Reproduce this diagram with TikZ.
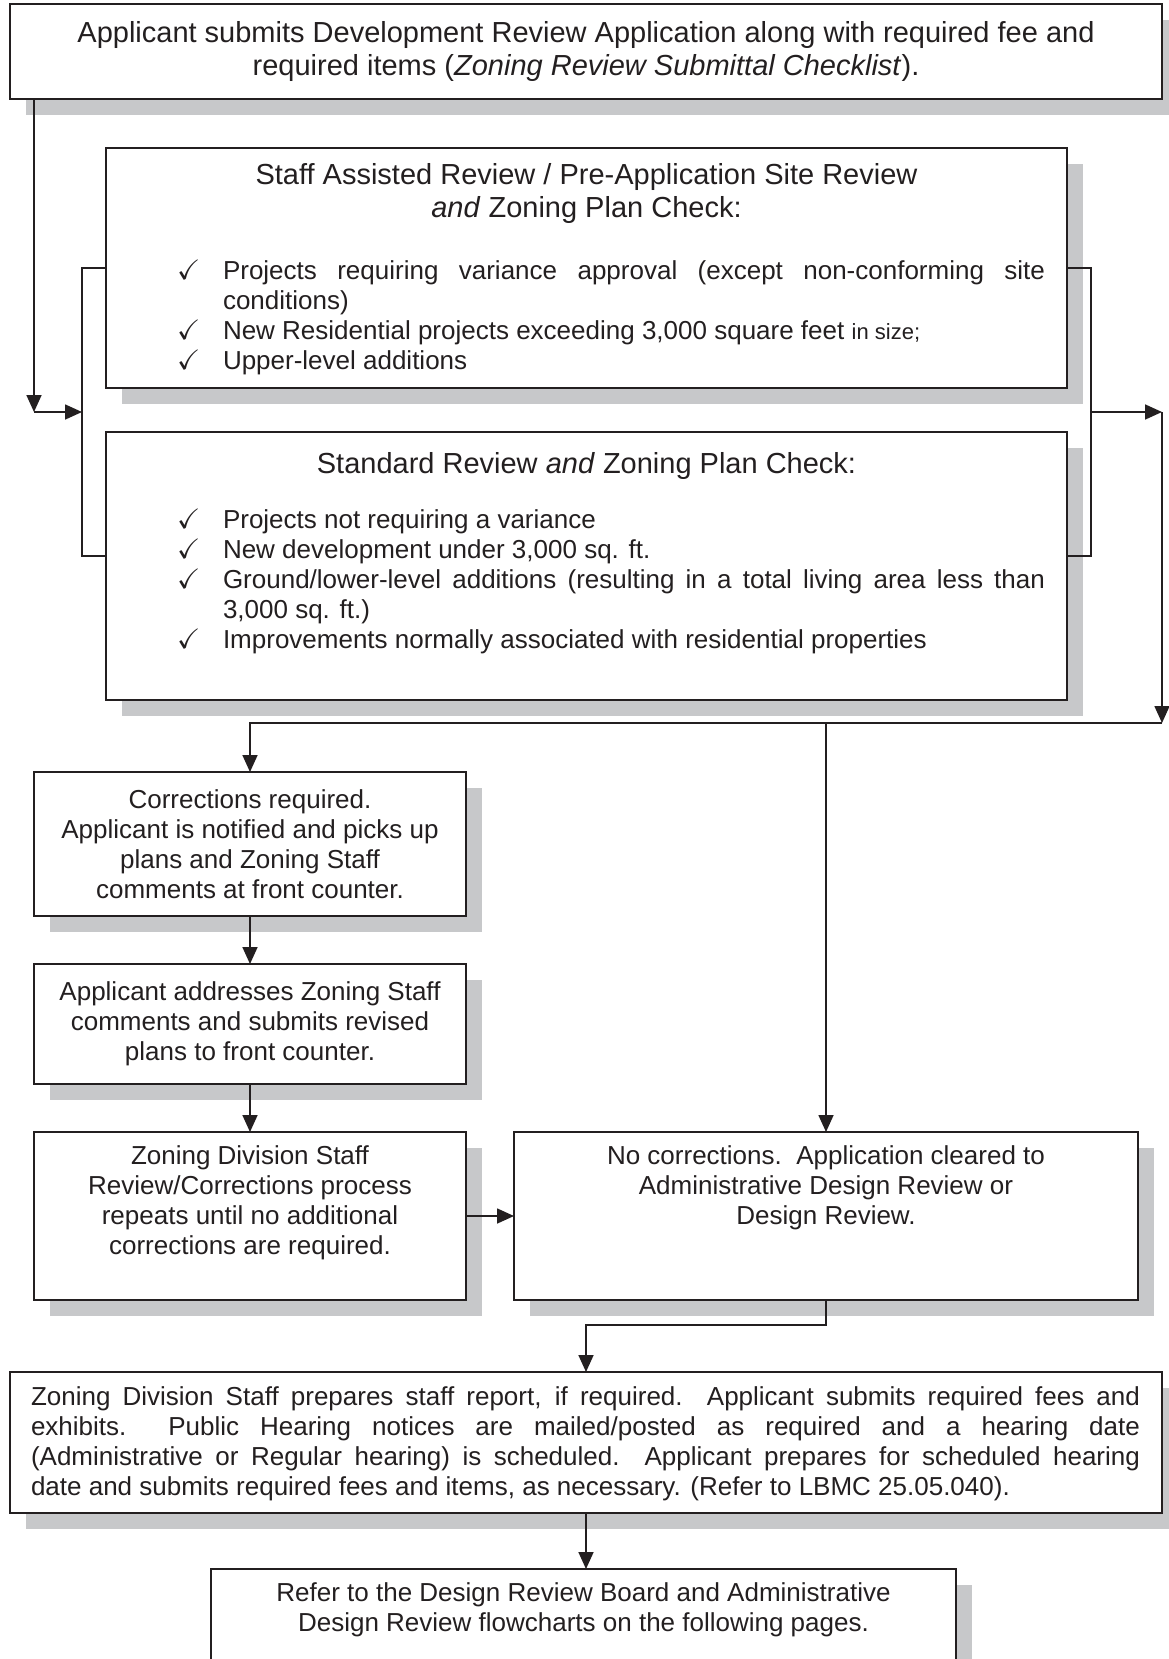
\documentclass[tikz,border=0pt]{standalone}
\usepackage{amssymb}
\usepackage{fontspec}
\setmainfont{Liberation Sans}
\usetikzlibrary{arrows.meta,shadows}
\definecolor{ink}{RGB}{35,31,32}
\definecolor{shadowgrey}{RGB}{199,200,202}
\newcommand{\bigsize}{\fontsize{29}{33}\selectfont}
\newcommand{\chk}[1]{\par{\leftskip=117pt\rightskip=22pt\parfillskip=0pt plus 1fil\tolerance=10000\hyphenpenalty=10000\exhyphenpenalty=10000\noindent\llap{\makebox[46pt][l]{\fontsize{28}{30}\selectfont$\checkmark$}}#1\par}}

\begin{document}
\begin{tikzpicture}[x=1pt,y=-1pt,
	chartbox/.style={draw=ink, line width=2pt, fill=white, inner sep=0pt, outer sep=0pt, anchor=north west, text=ink,
		font=\fontsize{26}{30}\selectfont,
		drop shadow={shadow xshift=16pt, shadow yshift=-16pt, fill=shadowgrey, opacity=1}},
	joinline/.style={draw=ink, line width=1.7pt},
	joinarrow/.style={joinline, -{Triangle[length=17pt,width=15pt]}}]
	\useasboundingbox (0,0) rectangle (1169,1659);
	% boxes
	\node[chartbox] (submit) at (10,4) {\parbox[c][95pt][c]{1152pt}{\centering\bigsize Applicant submits Development Review Application along with required fee and\\required items (\textit{Zoning Review Submittal Checklist}).}};
	\node[chartbox] (staffrev) at (106,148) {\parbox[c][240pt][t]{961pt}{\vspace*{15pt}{\centering\bigsize Staff Assisted Review / Pre-Application Site Review\\\textit{and} Zoning Plan Check:\par}\vspace{32.5pt}%
		\chk{Projects requiring variance approval (except non-conforming site conditions)}%
		\chk{New Residential projects exceeding 3,000 square feet {\fontsize{22}{30}\selectfont in size;}}%
		\chk{Upper-level additions}}};
	\node[chartbox] (stdrev) at (106,432) {\parbox[c][268pt][t]{961pt}{\vspace*{20pt}{\centering\bigsize Standard Review \textit{and} Zoning Plan Check:\par}\vspace{25.5pt}%
		\chk{Projects not requiring a variance}%
		\chk{New development under 3,000 sq. ft.}%
		\chk{Ground/lower-level additions (resulting in a total living area less than 3,000 sq. ft.)}%
		\chk{Improvements normally associated with residential properties}}};
	\node[chartbox] (corr) at (34,772) {\parbox[c][144pt][c]{432pt}{\centering Corrections required.\\Applicant is notified and picks up\\plans and Zoning Staff\\comments at front counter.}};
	\node[chartbox] (revise) at (34,964) {\parbox[c][120pt][c]{432pt}{\centering Applicant addresses Zoning Staff\\comments and submits revised\\plans to front counter.}};
	\node[chartbox] (repeatrev) at (34,1132) {\parbox[c][168pt][t]{432pt}{\vspace*{14pt}\centering Zoning Division Staff\\Review/Corrections process\\repeats until no additional\\corrections are required.}};
	\node[chartbox] (cleared) at (514,1132) {\parbox[c][168pt][t]{624pt}{\vspace*{14pt}\centering No corrections.\ \ Application cleared to\\Administrative Design Review or\\Design Review.}};
	\node[chartbox] (hearing) at (10,1372) {\parbox[c][141pt][t]{1152pt}{\vspace*{15pt}{\leftskip=21pt\rightskip=22pt\tolerance=10000\hyphenpenalty=10000 Zoning Division Staff prepares staff report, if required.\ \ Applicant submits required fees and\linebreak exhibits.\ \ Public Hearing notices are mailed/posted as required and a hearing date\linebreak (Administrative or Regular hearing) is scheduled.\ \ Applicant prepares for scheduled hearing\linebreak date and submits required fees and items, as necessary. (Refer to LBMC 25.05.040).\par}}};
	\node[chartbox] (refer) at (211,1569) {\parbox[c][120pt][t]{745pt}{\vspace*{14pt}\centering Refer to the Design Review Board and Administrative\\Design Review flowcharts on the following pages.}};
	% connectors
	\coordinate (lturn) at (34,412);
	\coordinate (lin) at (82,412);
	\coordinate (rout) at (1091,412);
	\coordinate (rturn) at (1162,412);
	\coordinate (rdown) at (1162,723);
	\draw[joinarrow] ([xshift=24pt]submit.south west) -- (lturn);
	\draw[joinarrow] (lturn) -- (lin);
	\draw[joinline] ([yshift=-120pt]staffrev.north west) -| (lin) |- ([yshift=-124pt]stdrev.north west);
	\draw[joinline] ([yshift=-120pt]staffrev.north east) -| (rout) |- ([yshift=-124pt]stdrev.north east);
	\draw[joinarrow] (rout) -- (rturn);
	\draw[joinarrow] (rturn) -- (rdown);
	\draw[joinarrow] (rdown) -| (corr.north);
	\draw[joinarrow] (cleared.north |- rdown) -- (cleared.north);
	\draw[joinarrow] (corr) -- (revise);
	\draw[joinarrow] (revise) -- (repeatrev);
	\draw[joinarrow] (repeatrev) -- (cleared);
	\draw[joinarrow] (cleared.south) -- ++(0,25) -| (hearing.north);
	\draw[joinarrow] (hearing.south) -- (hearing.south |- refer.north);
\end{tikzpicture}
\end{document}
